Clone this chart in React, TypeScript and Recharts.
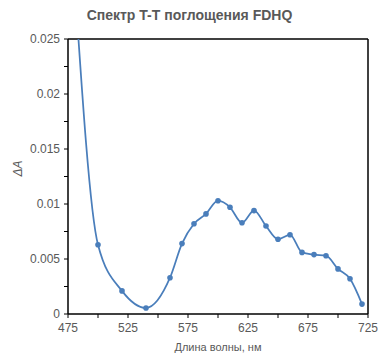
import React from "react";
import {
  LineChart,
  Line,
  XAxis,
  YAxis,
  ReferenceLine,
} from "recharts";

// wavelength, nm
const wavelengths = [480, 500, 520, 540, 560, 570, 580, 590, 600, 610, 620, 630, 640, 650, 660, 670, 680, 690, 700, 710, 720];
// ΔA values
const deltaA = [0.031, 0.0063, 0.0021, 0.00055, 0.0033, 0.0064, 0.0082, 0.0091, 0.0103, 0.0097, 0.0083, 0.0094, 0.008, 0.0068, 0.0072, 0.0056, 0.0054, 0.0053, 0.0041, 0.0032, 0.0009];

const xTicks = [475, 500, 525, 550, 575, 600, 625, 650, 675, 700, 725];
const yTicks = [0, 0.0025, 0.005, 0.0075, 0.01, 0.0125, 0.015, 0.0175, 0.02, 0.0225, 0.025];

const data = wavelengths.map((w, i) => ({ w, a: deltaA[i] }));

const FONT = "'Liberation Sans', Arial, sans-serif";
const GRAY = "#595959";

export default function App() {
  return (
    <div
      style={{
        position: "absolute",
        left: 0,
        top: 0,
        width: 379,
        height: 353,
        background: "#fff",
        fontFamily: FONT,
      }}
    >
      <div
        style={{
          position: "absolute",
          left: 0,
          top: 7,
          width: 379,
          textAlign: "center",
          fontSize: 14,
          fontWeight: "bold",
          color: GRAY,
        }}
      >
        Спектр T-T поглощения FDHQ
      </div>
      <LineChart
        width={379}
        height={353}
        data={data}
        margin={{ top: 39, right: 11, left: 0, bottom: 0 }}
      >
        <XAxis
          dataKey="w"
          type="number"
          domain={[475, 725]}
          ticks={xTicks}
          allowDataOverflow
          tickFormatter={(v) => ((v - 475) % 50 === 0 ? String(v) : "")}
          tick={{ fill: GRAY, fontSize: 12, fontFamily: FONT }}
          tickSize={4}
          tickMargin={5}
          axisLine={{ stroke: "#000", strokeWidth: 1.5 }}
          tickLine={{ stroke: "#000" }}
          height={39}
          label={{
            value: "Длина волны, нм",
            position: "insideBottom",
            offset: 2,
            fill: GRAY,
            fontSize: 11,
            fontFamily: FONT,
          }}
        />
        <YAxis
          type="number"
          domain={[0, 0.025]}
          ticks={yTicks}
          allowDataOverflow
          tickFormatter={(v) =>
            Math.round(v * 10000) % 50 === 0 ? String(Number(v.toFixed(4))) : ""
          }
          tick={{ fill: GRAY, fontSize: 12, fontFamily: FONT }}
          tickSize={4}
          tickMargin={4}
          axisLine={{ stroke: "#000", strokeWidth: 1.5 }}
          tickLine={{ stroke: "#000" }}
          width={68}
          label={{
            value: "ΔA",
            angle: -90,
            position: "insideLeft",
            offset: 18,
            fill: GRAY,
            fontSize: 12,
            fontFamily: FONT,
            fontStyle: "italic",
          }}
        />
        <ReferenceLine y={0.025} stroke="#000" strokeWidth={1.5} />
        <ReferenceLine x={725} stroke="#000" strokeWidth={1.5} />
        <Line
          type="monotone"
          dataKey="a"
          stroke="#4a7ebb"
          strokeWidth={1.75}
          dot={{ r: 2.8, fill: "#4a7ebb", stroke: "#4a7ebb", strokeWidth: 0 }}
          isAnimationActive={false}
        />
      </LineChart>
    </div>
  );
}
